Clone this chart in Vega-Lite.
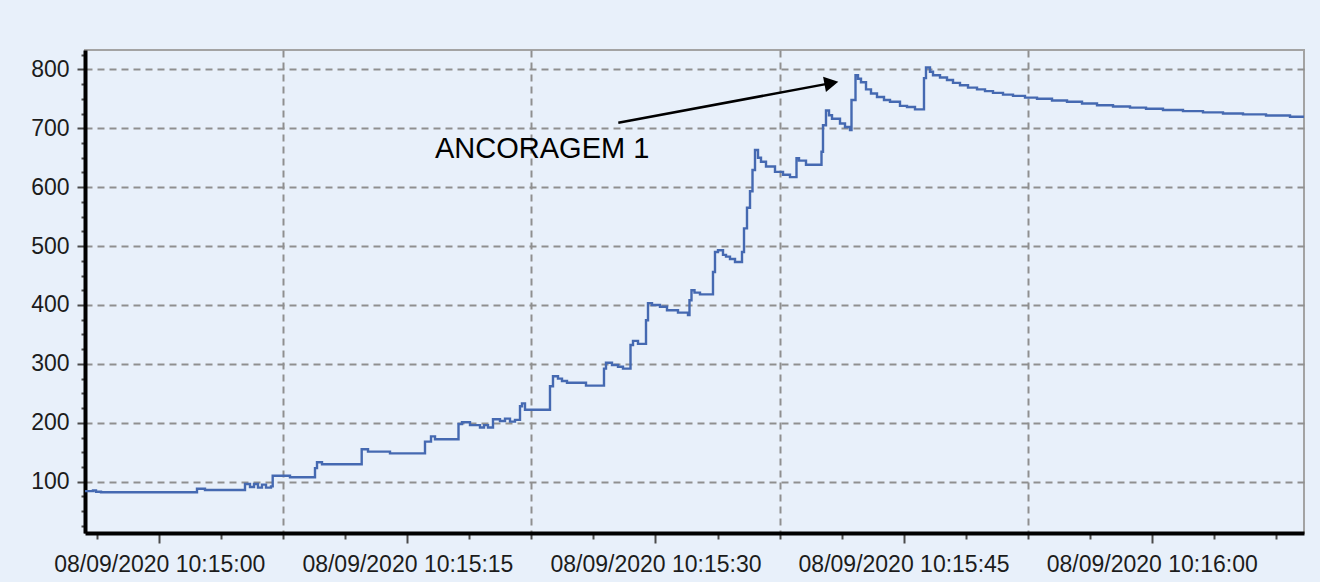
{
  "$schema": "https://vega.github.io/schema/vega-lite/v6.json",
  "width": 1219,
  "height": 483,
  "autosize": {"type": "none"},
  "padding": {"left": 85, "top": 50, "right": 16, "bottom": 49},
  "background": "#E8F0FA",
  "config": {
    "view": {"stroke": "#a3a3a3", "strokeWidth": 2},
    "axis": {
      "labelFont": "Liberation Sans",
      "labelFontSize": 23,
      "labelColor": "#1c1c1c",
      "labelLimit": 500,
      "domainColor": "#000000",
      "domainWidth": 4,
      "tickColor": "#4a4a4a",
      "tickWidth": 2,
      "gridColor": "#8f8f8f",
      "gridWidth": 2,
      "gridDash": [7, 5],
      "labelOverlap": false,
      "labelFlush": false,
      "title": null
    }
  },
  "encoding": {
    "x": {
      "field": "t",
      "type": "temporal",
      "scale": {"type": "utc", "domain": [1599560095508, 1599560169208]},
      "axis": {
        "values": [1599560096250, 1599560100000, 1599560103750, 1599560107500, 1599560111250, 1599560115000, 1599560118750, 1599560122500, 1599560126250, 1599560130000, 1599560133750, 1599560137500, 1599560141250, 1599560145000, 1599560148750, 1599560152500, 1599560156250, 1599560160000, 1599560163750, 1599560167500],
        "labelExpr": "(datum.value - 1599560100000) % 15000 === 0 ? utcFormat(datum.value, '%d/%m/%Y %H:%M:%S') : ''",
        "tickSize": {"condition": {"test": "(datum.value - 1599560100000) % 15000 === 0", "value": 10}, "value": 6},
        "gridOpacity": {"condition": {"test": "(datum.value - 1599560100000) % 15000 === 7500 && datum.value < 1599560160000", "value": 1}, "value": 0},
        "labelPadding": 10,
        "grid": true
      }
    },
    "y": {
      "field": "v",
      "type": "quantitative",
      "scale": {"domain": [12.9, 832.8], "nice": false, "zero": false},
      "axis": {
        "values": [25, 50, 75, 100, 125, 150, 175, 200, 225, 250, 275, 300, 325, 350, 375, 400, 425, 450, 475, 500, 525, 550, 575, 600, 625, 650, 675, 700, 725, 750, 775, 800, 825],
        "labelExpr": "datum.value % 100 === 0 ? datum.label : ''",
        "tickSize": {"condition": {"test": "datum.value % 100 === 0", "value": 8}, "value": 4},
        "gridOpacity": {"condition": {"test": "datum.value % 100 === 0", "value": 1}, "value": 0},
        "labelPadding": 8,
        "grid": true
      }
    }
  },
  "layer": [
    {
      "data": {"values": [
        {"t": "2020-09-08T10:14:55.510Z", "v": 84},
        {"t": "2020-09-08T10:14:55.991Z", "v": 85},
        {"t": "2020-09-08T10:14:56.173Z", "v": 83},
        {"t": "2020-09-08T10:14:56.475Z", "v": 82},
        {"t": "2020-09-08T10:15:02.279Z", "v": 88},
        {"t": "2020-09-08T10:15:02.763Z", "v": 86},
        {"t": "2020-09-08T10:15:05.181Z", "v": 96},
        {"t": "2020-09-08T10:15:05.484Z", "v": 91},
        {"t": "2020-09-08T10:15:05.726Z", "v": 96},
        {"t": "2020-09-08T10:15:05.967Z", "v": 90},
        {"t": "2020-09-08T10:15:06.209Z", "v": 95},
        {"t": "2020-09-08T10:15:06.451Z", "v": 90},
        {"t": "2020-09-08T10:15:06.753Z", "v": 92},
        {"t": "2020-09-08T10:15:06.856Z", "v": 110},
        {"t": "2020-09-08T10:15:07.902Z", "v": 107.5},
        {"t": "2020-09-08T10:15:09.414Z", "v": 123},
        {"t": "2020-09-08T10:15:09.535Z", "v": 133},
        {"t": "2020-09-08T10:15:09.837Z", "v": 129.5},
        {"t": "2020-09-08T10:15:12.237Z", "v": 155},
        {"t": "2020-09-08T10:15:12.618Z", "v": 151},
        {"t": "2020-09-08T10:15:13.948Z", "v": 148},
        {"t": "2020-09-08T10:15:16.064Z", "v": 168},
        {"t": "2020-09-08T10:15:16.427Z", "v": 177},
        {"t": "2020-09-08T10:15:16.669Z", "v": 172},
        {"t": "2020-09-08T10:15:18.090Z", "v": 198},
        {"t": "2020-09-08T10:15:18.301Z", "v": 201},
        {"t": "2020-09-08T10:15:18.785Z", "v": 196},
        {"t": "2020-09-08T10:15:19.389Z", "v": 192},
        {"t": "2020-09-08T10:15:19.631Z", "v": 196},
        {"t": "2020-09-08T10:15:19.873Z", "v": 192},
        {"t": "2020-09-08T10:15:20.175Z", "v": 206},
        {"t": "2020-09-08T10:15:20.598Z", "v": 203},
        {"t": "2020-09-08T10:15:20.901Z", "v": 207},
        {"t": "2020-09-08T10:15:21.203Z", "v": 202},
        {"t": "2020-09-08T10:15:21.505Z", "v": 205},
        {"t": "2020-09-08T10:15:21.808Z", "v": 228},
        {"t": "2020-09-08T10:15:21.929Z", "v": 233},
        {"t": "2020-09-08T10:15:22.110Z", "v": 222},
        {"t": "2020-09-08T10:15:23.621Z", "v": 262},
        {"t": "2020-09-08T10:15:23.803Z", "v": 279},
        {"t": "2020-09-08T10:15:24.105Z", "v": 275},
        {"t": "2020-09-08T10:15:24.347Z", "v": 271},
        {"t": "2020-09-08T10:15:24.649Z", "v": 268},
        {"t": "2020-09-08T10:15:25.798Z", "v": 263},
        {"t": "2020-09-08T10:15:26.886Z", "v": 292},
        {"t": "2020-09-08T10:15:27.007Z", "v": 302},
        {"t": "2020-09-08T10:15:27.370Z", "v": 298},
        {"t": "2020-09-08T10:15:27.733Z", "v": 295},
        {"t": "2020-09-08T10:15:28.035Z", "v": 292},
        {"t": "2020-09-08T10:15:28.489Z", "v": 332},
        {"t": "2020-09-08T10:15:28.640Z", "v": 339},
        {"t": "2020-09-08T10:15:28.942Z", "v": 334},
        {"t": "2020-09-08T10:15:29.426Z", "v": 374},
        {"t": "2020-09-08T10:15:29.547Z", "v": 403},
        {"t": "2020-09-08T10:15:29.788Z", "v": 400},
        {"t": "2020-09-08T10:15:30.272Z", "v": 397},
        {"t": "2020-09-08T10:15:30.695Z", "v": 391},
        {"t": "2020-09-08T10:15:31.360Z", "v": 387},
        {"t": "2020-09-08T10:15:31.965Z", "v": 383},
        {"t": "2020-09-08T10:15:32.055Z", "v": 408},
        {"t": "2020-09-08T10:15:32.176Z", "v": 425},
        {"t": "2020-09-08T10:15:32.358Z", "v": 421},
        {"t": "2020-09-08T10:15:32.690Z", "v": 418},
        {"t": "2020-09-08T10:15:33.476Z", "v": 456},
        {"t": "2020-09-08T10:15:33.597Z", "v": 490},
        {"t": "2020-09-08T10:15:33.779Z", "v": 493},
        {"t": "2020-09-08T10:15:34.081Z", "v": 485},
        {"t": "2020-09-08T10:15:34.263Z", "v": 482},
        {"t": "2020-09-08T10:15:34.504Z", "v": 478},
        {"t": "2020-09-08T10:15:34.807Z", "v": 473},
        {"t": "2020-09-08T10:15:35.230Z", "v": 490},
        {"t": "2020-09-08T10:15:35.351Z", "v": 530},
        {"t": "2020-09-08T10:15:35.532Z", "v": 565},
        {"t": "2020-09-08T10:15:35.714Z", "v": 593},
        {"t": "2020-09-08T10:15:35.865Z", "v": 629},
        {"t": "2020-09-08T10:15:36.016Z", "v": 663},
        {"t": "2020-09-08T10:15:36.197Z", "v": 650},
        {"t": "2020-09-08T10:15:36.378Z", "v": 643},
        {"t": "2020-09-08T10:15:36.681Z", "v": 635},
        {"t": "2020-09-08T10:15:37.225Z", "v": 626},
        {"t": "2020-09-08T10:15:37.709Z", "v": 621},
        {"t": "2020-09-08T10:15:38.132Z", "v": 617},
        {"t": "2020-09-08T10:15:38.525Z", "v": 649},
        {"t": "2020-09-08T10:15:38.676Z", "v": 645},
        {"t": "2020-09-08T10:15:39.099Z", "v": 638},
        {"t": "2020-09-08T10:15:40.036Z", "v": 660},
        {"t": "2020-09-08T10:15:40.127Z", "v": 705},
        {"t": "2020-09-08T10:15:40.308Z", "v": 730},
        {"t": "2020-09-08T10:15:40.490Z", "v": 722},
        {"t": "2020-09-08T10:15:40.671Z", "v": 716},
        {"t": "2020-09-08T10:15:41.155Z", "v": 708},
        {"t": "2020-09-08T10:15:41.457Z", "v": 702},
        {"t": "2020-09-08T10:15:41.760Z", "v": 697},
        {"t": "2020-09-08T10:15:41.850Z", "v": 748},
        {"t": "2020-09-08T10:15:42.092Z", "v": 790},
        {"t": "2020-09-08T10:15:42.243Z", "v": 784},
        {"t": "2020-09-08T10:15:42.424Z", "v": 778},
        {"t": "2020-09-08T10:15:42.727Z", "v": 766},
        {"t": "2020-09-08T10:15:43.029Z", "v": 759},
        {"t": "2020-09-08T10:15:43.392Z", "v": 753},
        {"t": "2020-09-08T10:15:43.815Z", "v": 748},
        {"t": "2020-09-08T10:15:44.178Z", "v": 745},
        {"t": "2020-09-08T10:15:44.782Z", "v": 738},
        {"t": "2020-09-08T10:15:45.206Z", "v": 736},
        {"t": "2020-09-08T10:15:45.689Z", "v": 732},
        {"t": "2020-09-08T10:15:46.233Z", "v": 785},
        {"t": "2020-09-08T10:15:46.354Z", "v": 803},
        {"t": "2020-09-08T10:15:46.596Z", "v": 796},
        {"t": "2020-09-08T10:15:46.778Z", "v": 790},
        {"t": "2020-09-08T10:15:47.201Z", "v": 786},
        {"t": "2020-09-08T10:15:47.624Z", "v": 782},
        {"t": "2020-09-08T10:15:47.987Z", "v": 777},
        {"t": "2020-09-08T10:15:48.410Z", "v": 773},
        {"t": "2020-09-08T10:15:48.894Z", "v": 769},
        {"t": "2020-09-08T10:15:49.438Z", "v": 766},
        {"t": "2020-09-08T10:15:49.922Z", "v": 763},
        {"t": "2020-09-08T10:15:50.405Z", "v": 760},
        {"t": "2020-09-08T10:15:51.010Z", "v": 757},
        {"t": "2020-09-08T10:15:51.615Z", "v": 755},
        {"t": "2020-09-08T10:15:52.340Z", "v": 752},
        {"t": "2020-09-08T10:15:53.066Z", "v": 750},
        {"t": "2020-09-08T10:15:53.973Z", "v": 747},
        {"t": "2020-09-08T10:15:54.880Z", "v": 745},
        {"t": "2020-09-08T10:15:55.787Z", "v": 742},
        {"t": "2020-09-08T10:15:56.694Z", "v": 739},
        {"t": "2020-09-08T10:15:57.661Z", "v": 737},
        {"t": "2020-09-08T10:15:58.689Z", "v": 735},
        {"t": "2020-09-08T10:15:59.657Z", "v": 733},
        {"t": "2020-09-08T10:16:00.683Z", "v": 731},
        {"t": "2020-09-08T10:16:01.892Z", "v": 729},
        {"t": "2020-09-08T10:16:03.101Z", "v": 727},
        {"t": "2020-09-08T10:16:04.311Z", "v": 725},
        {"t": "2020-09-08T10:16:05.520Z", "v": 723.5},
        {"t": "2020-09-08T10:16:06.911Z", "v": 721.5},
        {"t": "2020-09-08T10:16:08.362Z", "v": 719.5},
        {"t": "2020-09-08T10:16:09.208Z", "v": 718.5}
      ]},
      "mark": {"type": "line", "interpolate": "step-after", "color": "#4569B1", "strokeWidth": 2.4, "clip": true}
    },
    {
      "data": {"values": [
        {"t": "2020-09-08T10:15:27.751Z", "v": 709.4, "t2": "2020-09-08T10:15:40.700Z", "v2": 777.0}
      ]},
      "mark": {"type": "rule", "color": "#000000", "strokeWidth": 2.5},
      "encoding": {
        "x2": {"field": "t2"},
        "y2": {"field": "v2"}
      }
    },
    {
      "data": {"values": [
        {"t": "2020-09-08T10:15:41.051Z", "v": 778.9}
      ]},
      "mark": {"type": "point", "shape": "M0,0L-2,-1.1L-2,1.1Z", "filled": true, "color": "#000000", "opacity": 1, "size": 196, "angle": 349.44}
    },
    {
      "data": {"values": [
        {"t": "2020-09-08T10:15:16.669Z", "v": 648.9, "label": "ANCORAGEM 1"}
      ]},
      "mark": {"type": "text", "align": "left", "baseline": "alphabetic", "font": "Liberation Sans", "fontSize": 29, "color": "#000000"},
      "encoding": {
        "text": {"field": "label"}
      }
    }
  ]
}
